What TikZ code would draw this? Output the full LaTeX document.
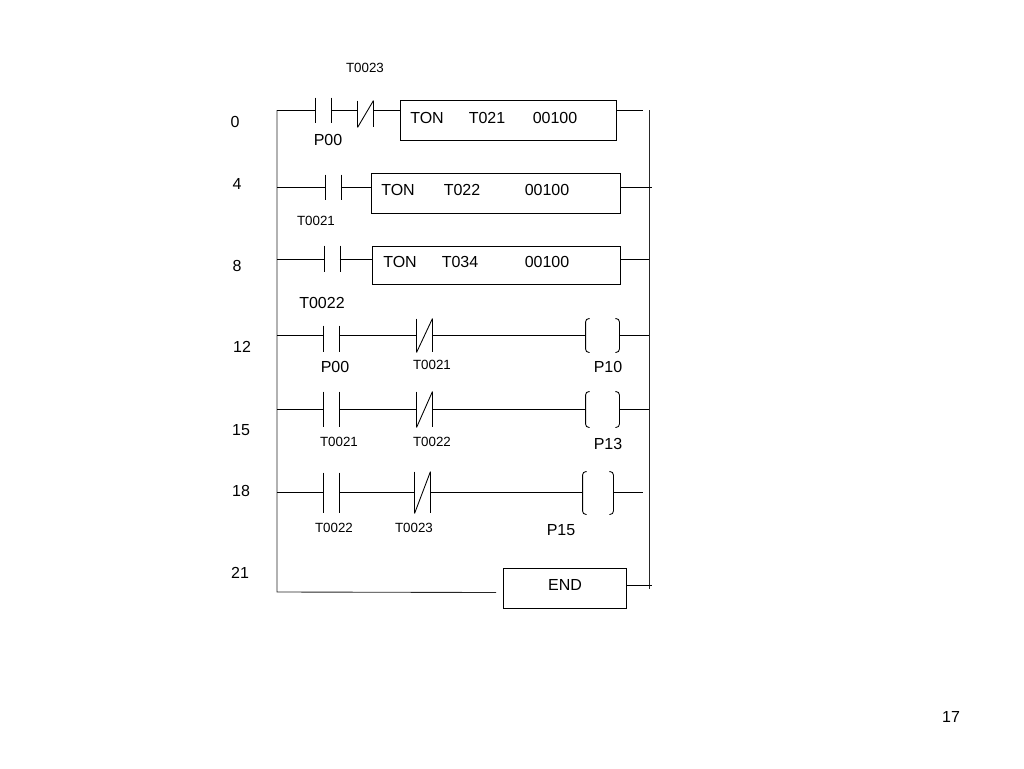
\documentclass[tikz,border=0pt]{standalone}
\usepackage{fontspec}
\setmainfont{Liberation Sans}
\usetikzlibrary{calc}

\begin{document}
\begin{tikzpicture}[x=0.75pt,y=-0.75pt,line width=0.65pt,
  lbl/.style={font=\fontsize{12}{14}\selectfont,inner sep=0pt},
  slbl/.style={font=\fontsize{10}{12}\selectfont,inner sep=0pt},
  fbox/.style={draw,rectangle,inner sep=0pt},
  cnt/.style={rectangle,inner sep=0pt,minimum width=11.25pt,minimum height=#1},
  coil/.style={rectangle,inner sep=0pt,minimum width=24.75pt,minimum height=#1}]
  \useasboundingbox (0,0) rectangle (1024,768);
  % rails
  \coordinate (L0) at (277,110);
  \coordinate (L4) at (277,187);
  \coordinate (L8) at (277,259);
  \coordinate (L12) at (277,335);
  \coordinate (L15) at (277,409);
  \coordinate (L18) at (277,492);
  \coordinate (Lend) at (277,592);
  \coordinate (Lfoot) at (496,592.5);
  \coordinate (Rtop) at (649,110);
  \coordinate (Rbot) at (649,589);
  \draw[black!85] (L0) -- (Lend) -- (Lfoot);
  \draw[black!85] (Rtop) -- (Rbot);
  % contacts
  \node[cnt=18.75pt] (p00a) at (323,110.5) {};
  \node[cnt=18.75pt] (t0021a) at (333,187.5) {};
  \node[cnt=19.5pt] (t0022a) at (332,259) {};
  \node[cnt=19.5pt] (p00b) at (331.5,339) {};
  \node[cnt=26.25pt] (t0021b) at (331.5,409.5) {};
  \node[cnt=30pt] (t0022b) at (331.5,493) {};
  \node[cnt=19.5pt] (t0023a) at (365.5,114) {};
  \node[cnt=24.75pt] (t0021c) at (424.5,335.5) {};
  \node[cnt=26.25pt] (t0022c) at (424.5,409.5) {};
  \node[cnt=30.75pt] (t0023b) at (422.5,492.5) {};
  \node[coil=24.75pt] (p10) at (602.5,335.5) {};
  \node[coil=26.25pt] (p13) at (602.5,409.5) {};
  \node[coil=31.5pt,minimum width=22.5pt] (p15) at (598,493) {};
  \foreach \c in {p00a,t0021a,t0022a,p00b,t0021b,t0022b,t0023a,t0021c,t0022c,t0023b}
    \draw (\c.north west) -- (\c.south west) (\c.north east) -- (\c.south east);
  \foreach \c in {t0023a,t0021c,t0022c,t0023b}
    \draw (\c.south west) -- (\c.north east);
  \foreach \c in {p10,p13,p15}
    \draw[rounded corners=2.5pt] ([xshift=3pt]\c.north west) -- (\c.north west) -- (\c.south west) -- ([xshift=3pt]\c.south west)
      ([xshift=-3pt]\c.north east) -- (\c.north east) -- (\c.south east) -- ([xshift=-3pt]\c.south east);
  % function boxes
  \node[fbox,minimum width=162pt,minimum height=30pt] (t021) at (508,120) {};
  \node[fbox,minimum width=186.75pt,minimum height=30pt] (t022) at (495.5,193) {};
  \node[fbox,minimum width=186pt,minimum height=28.5pt] (t034) at (496,265) {};
  \node[fbox,minimum width=92.25pt,minimum height=30pt] (end) at (564.5,588) {};
  % rung ends
  \coordinate (e0) at (643,110);
  \coordinate (e4) at (652,187);
  \coordinate (e8) at (649,259);
  \coordinate (e12) at (649,335);
  \coordinate (e15) at (649,409);
  \coordinate (e18) at (643,492);
  \coordinate (eend) at (652,585);
  % wires
  \draw (L0) -- (L0 -| p00a.west) (L0 -| p00a.east) -- (L0 -| t0023a.west)
    (L0 -| t0023a.east) -- (L0 -| t021.west) (L0 -| t021.east) -- (e0);
  \draw (L4) -- (L4 -| t0021a.west) (L4 -| t0021a.east) -- (L4 -| t022.west)
    (L4 -| t022.east) -- (e4);
  \draw (L8) -- (L8 -| t0022a.west) (L8 -| t0022a.east) -- (L8 -| t034.west)
    (L8 -| t034.east) -- (e8);
  \draw (L12) -- (L12 -| p00b.west) (L12 -| p00b.east) -- (L12 -| t0021c.west)
    (L12 -| t0021c.east) -- (L12 -| p10.west) (L12 -| p10.east) -- (e12);
  \draw (L15) -- (L15 -| t0021b.west) (L15 -| t0021b.east) -- (L15 -| t0022c.west)
    (L15 -| t0022c.east) -- (L15 -| p13.west) (L15 -| p13.east) -- (e15);
  \draw (L18) -- (L18 -| t0022b.west) (L18 -| t0022b.east) -- (L18 -| t0023b.west)
    (L18 -| t0023b.east) -- (L18 -| p15.west) (L18 -| p15.east) -- (e18);
  \draw (eend -| end.east) -- (eend);
  % step numbers
  \node[lbl] (s0) at (235,122) {0};
  \node[lbl] (s4) at (237,184) {4};
  \node[lbl] (s8) at (237,266) {8};
  \node[lbl] (s12) at (242,347) {12};
  \node[lbl] (s15) at (241,430) {15};
  \node[lbl] (s18) at (241,491) {18};
  \node[lbl] (s21) at (240,573) {21};
  % box texts
  \node[lbl] (ton0) at (427,118) {TON};
  \node[lbl] (tim0) at (487,118) {T021};
  \node[lbl] (val0) at (555,118) {00100};
  \node[lbl] (ton4) at (398,190) {TON};
  \node[lbl] (tim4) at (462,190) {T022};
  \node[lbl] (val4) at (547,190) {00100};
  \node[lbl] (ton8) at (400,262) {TON};
  \node[lbl] (tim8) at (460,262) {T034};
  \node[lbl] (val8) at (547,262) {00100};
  \node[lbl] (endtxt) at (565,585) {END};
  % contact labels
  \node[slbl] at (365,68) {T0023};
  \node[lbl] at (328,140) {P00};
  \node[slbl] at (316,221) {T0021};
  \node[lbl] at (322,303) {T0022};
  \node[lbl] at (335,367) {P00};
  \node[slbl] at (432,365) {T0021};
  \node[lbl] at (608,367) {P10};
  \node[slbl] at (339,442) {T0021};
  \node[slbl] at (432,442) {T0022};
  \node[lbl] at (608,444) {P13};
  \node[slbl] at (334,528) {T0022};
  \node[slbl] at (414,528) {T0023};
  \node[lbl] at (561,530) {P15};
  \node[lbl] (page) at (951,717) {17};
\end{tikzpicture}
\end{document}
